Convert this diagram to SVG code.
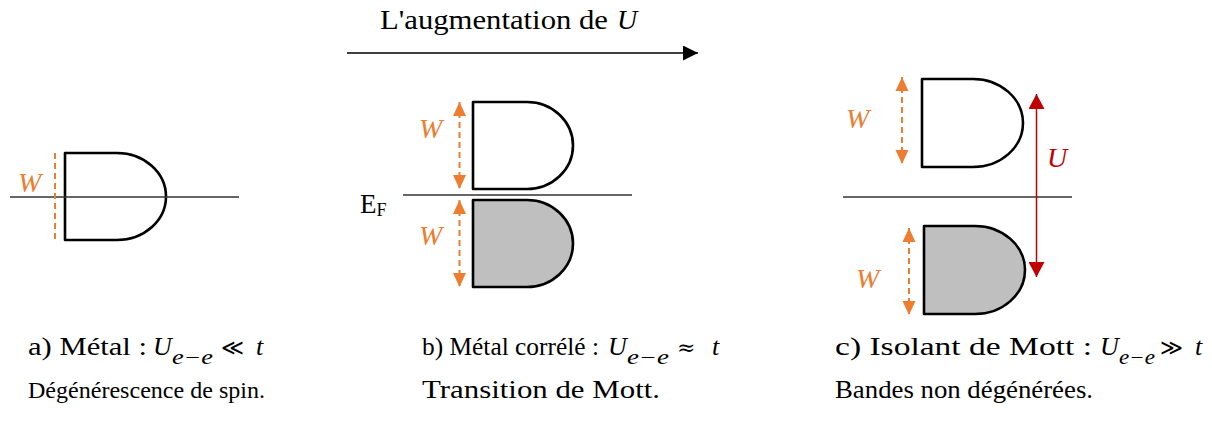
<svg xmlns="http://www.w3.org/2000/svg" width="1212" height="432" viewBox="0 0 1212 432">
<style>
.band{fill:#fff;stroke:#000;stroke-width:2.6;stroke-linejoin:round}
.filled{fill:#bfbfbf}
.ef{stroke:#333;stroke-width:1.3;fill:none}
.dash{stroke:#ED7D31;stroke-width:2;stroke-dasharray:6 4;fill:none}
</style>
<defs>
<marker id="ho" markerUnits="userSpaceOnUse" markerWidth="14" markerHeight="14" refX="14" refY="6.5" orient="auto-start-reverse" viewBox="0 0 14 13">
<path d="M0,0 L14,6.5 L0,13 Z" fill="#ED7D31"/>
</marker>
<marker id="hr" markerUnits="userSpaceOnUse" markerWidth="15" markerHeight="16" refX="15" refY="8" orient="auto-start-reverse" viewBox="0 0 15 16">
<path d="M0,0 L15,8 L0,16 Z" fill="#C00000"/>
</marker>
<marker id="hb" markerUnits="userSpaceOnUse" markerWidth="15" markerHeight="15" refX="15" refY="7.5" orient="auto" viewBox="0 0 15 15">
<path d="M0,0 L15,7.5 L0,15 Z" fill="#000"/>
</marker>
</defs>

<g id="title">
<text x="380" y="29" font-family="'Liberation Serif', serif" font-size="28" fill="#000" textLength="228" lengthAdjust="spacingAndGlyphs">L'augmentation de</text>
<text x="617" y="29" font-family="'Liberation Serif', serif" font-style="italic" font-size="28" fill="#000">U</text>
</g>

<g id="panel-a">
<path class="band" d="M65,153 H117 A49,43.5 0 0 1 117,240 H65 Z"/>
<text x="18" y="192" font-family="'Liberation Serif', serif" font-style="italic" font-size="28" fill="#ED7D31">W</text>
</g>

<g id="panel-b">
<path class="band" d="M473,102 H527 A46,43.5 0 0 1 527,189 H473 Z"/>
<path class="band filled" d="M473,200 H527 A46,43.5 0 0 1 527,287 H473 Z"/>
<text x="419" y="138" font-family="'Liberation Serif', serif" font-style="italic" font-size="28" fill="#ED7D31">W</text>
<text x="419" y="245" font-family="'Liberation Serif', serif" font-style="italic" font-size="28" fill="#ED7D31">W</text>
<text x="360" y="213" font-family="'Liberation Serif', serif" font-size="27" fill="#000">E<tspan font-size="18" dy="3">F</tspan></text>
</g>

<g id="panel-c">
<path class="band" d="M922,79 H973 A50,44 0 0 1 973,167 H922 Z"/>
<path class="band filled" d="M924,226 H975 A50,44 0 0 1 975,314 H924 Z"/>
<text x="846" y="128" font-family="'Liberation Serif', serif" font-style="italic" font-size="28" fill="#ED7D31">W</text>
<text x="856" y="288" font-family="'Liberation Serif', serif" font-style="italic" font-size="28" fill="#ED7D31">W</text>
<text x="1047" y="167" font-family="'Liberation Serif', serif" font-style="italic" font-size="28" fill="#C00000">U</text>
</g>

<g id="connectors">
<line x1="347" y1="53" x2="698" y2="53" stroke="#000" stroke-width="1.5" marker-end="url(#hb)"/>
<line class="ef" x1="10" y1="197" x2="239" y2="197"/>
<line class="ef" x1="403" y1="195" x2="632" y2="195"/>
<line class="ef" x1="843" y1="197" x2="1072" y2="197"/>
<line class="dash" x1="55" y1="153" x2="55" y2="240"/>
<line class="dash" x1="459.5" y1="102" x2="459.5" y2="189" marker-start="url(#ho)" marker-end="url(#ho)"/>
<line class="dash" x1="459.5" y1="200" x2="459.5" y2="287" marker-start="url(#ho)" marker-end="url(#ho)"/>
<line class="dash" x1="902" y1="77" x2="902" y2="164" marker-start="url(#ho)" marker-end="url(#ho)"/>
<line class="dash" x1="909" y1="228" x2="909" y2="315" marker-start="url(#ho)" marker-end="url(#ho)"/>
<line x1="1036.5" y1="94" x2="1036.5" y2="277" stroke="#C00000" stroke-width="1.5" marker-start="url(#hr)" marker-end="url(#hr)"/>
</g>

<g id="caption-a">
<text x="28" y="355" font-family="'Liberation Serif', serif" font-size="25" fill="#000" textLength="119" lengthAdjust="spacingAndGlyphs">a) Métal :</text>
<text x="153" y="355" font-family="'Liberation Serif', serif" font-style="italic" font-size="26" fill="#000">U</text>
<text x="172" y="364" font-family="'Liberation Serif', serif" font-style="italic" font-size="20" fill="#000" textLength="41" lengthAdjust="spacingAndGlyphs">e−e</text>
<text x="221" y="355" font-family="'DejaVu Serif', serif" font-size="22" fill="#000">≪</text>
<text x="256" y="355" font-family="'Liberation Serif', serif" font-style="italic" font-size="26" fill="#000">t</text>
<text x="28" y="398" font-family="'Liberation Serif', serif" font-size="24" fill="#000" textLength="237" lengthAdjust="spacingAndGlyphs">Dégénérescence de spin.</text>
</g>

<g id="caption-b">
<text x="422" y="355" font-family="'Liberation Serif', serif" font-size="25" fill="#000" textLength="177" lengthAdjust="spacingAndGlyphs">b) Métal corrélé :</text>
<text x="608" y="355" font-family="'Liberation Serif', serif" font-style="italic" font-size="26" fill="#000">U</text>
<text x="627" y="364" font-family="'Liberation Serif', serif" font-style="italic" font-size="20" fill="#000" textLength="42" lengthAdjust="spacingAndGlyphs">e−e</text>
<text x="677" y="355" font-family="'DejaVu Serif', serif" font-size="22" fill="#000">≈</text>
<text x="712" y="355" font-family="'Liberation Serif', serif" font-style="italic" font-size="26" fill="#000">t</text>
<text x="422" y="398" font-family="'Liberation Serif', serif" font-size="26" fill="#000" textLength="238" lengthAdjust="spacingAndGlyphs">Transition de Mott.</text>
</g>

<g id="caption-c">
<text x="835" y="355" font-family="'Liberation Serif', serif" font-size="25" fill="#000" textLength="257" lengthAdjust="spacingAndGlyphs">c) Isolant de Mott :</text>
<text x="1100" y="355" font-family="'Liberation Serif', serif" font-style="italic" font-size="26" fill="#000">U</text>
<text x="1119" y="364" font-family="'Liberation Serif', serif" font-style="italic" font-size="20" fill="#000" textLength="36" lengthAdjust="spacingAndGlyphs">e−e</text>
<text x="1160" y="355" font-family="'DejaVu Serif', serif" font-size="22" fill="#000">≫</text>
<text x="1195" y="355" font-family="'Liberation Serif', serif" font-style="italic" font-size="26" fill="#000">t</text>
<text x="835" y="398" font-family="'Liberation Serif', serif" font-size="25" fill="#000" textLength="258" lengthAdjust="spacingAndGlyphs">Bandes non dégénérées.</text>
</g>
</svg>
